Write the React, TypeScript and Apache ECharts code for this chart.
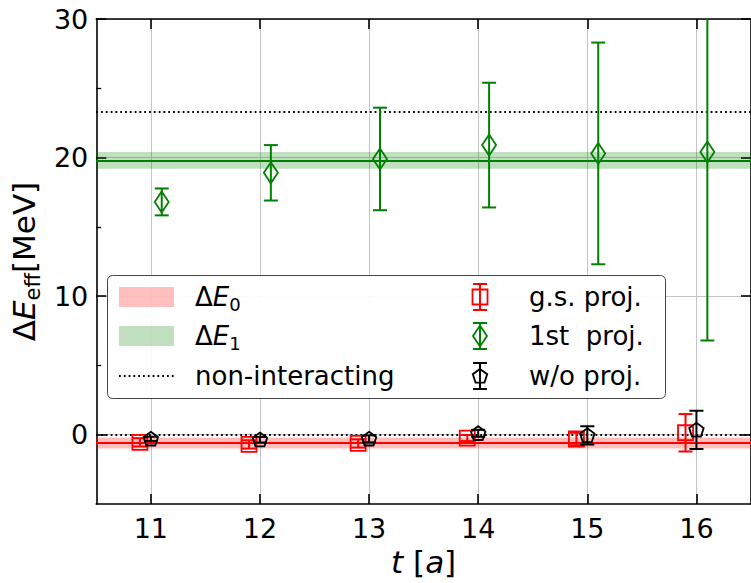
import React, { useEffect, useRef } from "react";
import * as echarts from "echarts";

// ---------- data ----------
const tValues = [11, 12, 13, 14, 15, 16];
const gsShift = -0.1;
const firstShift = 0.1;
const gsValues = [-0.55, -0.7, -0.63, -0.24, -0.31, 0.14];
const gsErrors = [0.3, 0.3, 0.3, 0.22, 0.45, 1.35];
const firstValues = [16.8, 18.9, 19.9, 20.9, 20.3, 20.4];
const firstErrors = [0.97, 2.0, 3.7, 4.5, 8.0, 13.6];
const woValues = [-0.3, -0.36, -0.3, 0.1, -0.05, 0.35];
const woErrors = [0.15, 0.2, 0.25, 0.25, 0.66, 1.38];
const dE0Value = -0.6;
const dE0Error = 0.4;
const dE1Value = 19.8;
const dE1Error = 0.6;
const nonInteracting = [0, 23.3];
const xTicks = [11, 12, 13, 14, 15, 16];
const yTicks = [0, 10, 20, 30];
const yMinorTicks = [5, 15, 25];

const FONT = "DejaVu Sans";
const RED = "#ff0000";
const GREEN = "#008000";
const BLACK = "#000000";

type Marker = "square" | "diamond" | "pentagon";

function markerPoints(kind: Marker, cx: number, cy: number): number[][] {
  if (kind === "square") {
    const h = 7.5;
    return [
      [cx - h, cy - h],
      [cx + h, cy - h],
      [cx + h, cy + h],
      [cx - h, cy + h],
    ];
  }
  if (kind === "diamond") {
    return [
      [cx, cy - 10.5],
      [cx + 7, cy],
      [cx, cy + 10.5],
      [cx - 7, cy],
    ];
  }
  const r = 7.6;
  const pts: number[][] = [];
  for (let k = 0; k < 5; k++) {
    const a = ((-90 + k * 72) * Math.PI) / 180;
    pts.push([cx + r * Math.cos(a), cy + 0.5 + r * Math.sin(a)]);
  }
  return pts;
}

function errGlyph(cx: number, cy: number, yTop: number, yBot: number, color: string, kind: Marker) {
  const cap = 7;
  const st = { stroke: color, lineWidth: 2, fill: "none" };
  return [
    { type: "line", shape: { x1: cx, y1: yTop, x2: cx, y2: yBot }, style: st },
    { type: "line", shape: { x1: cx - cap, y1: yTop, x2: cx + cap, y2: yTop }, style: st },
    { type: "line", shape: { x1: cx - cap, y1: yBot, x2: cx + cap, y2: yBot }, style: st },
    {
      type: "polygon",
      shape: { points: markerPoints(kind, cx, cy) },
      style: { stroke: color, lineWidth: 1.8, fill: "none" },
    },
  ];
}

function errorSeries(name: string, shift: number, vals: number[], errs: number[], color: string, kind: Marker, z: number) {
  return {
    type: "custom",
    name,
    clip: true,
    z,
    encode: { x: 0, y: 1 },
    data: tValues.map((t, i) => [t + shift, vals[i], errs[i]]),
    renderItem: (params: any, api: any) => {
      const x = api.value(0);
      const y = api.value(1);
      const e = api.value(2);
      const c = api.coord([x, y]);
      const top = api.coord([x, y + e]);
      const bot = api.coord([x, y - e]);
      return { type: "group", children: errGlyph(c[0], c[1], top[1], bot[1], color, kind) };
    },
  };
}

function legendGraphics() {
  const rows = [297, 336, 376];
  const els: any[] = [];
  els.push({
    type: "rect",
    shape: { x: 107.5, y: 275.5, width: 558, height: 123, r: 5 },
    style: { fill: "rgba(255,255,255,0.92)", stroke: "#444444", lineWidth: 1 },
    z: 100,
  });
  els.push({
    type: "rect",
    shape: { x: 119, y: rows[0] - 10, width: 55, height: 20 },
    style: { fill: "rgba(255,0,0,0.25)" },
    z: 101,
  });
  els.push({
    type: "rect",
    shape: { x: 119, y: rows[1] - 10, width: 55, height: 20 },
    style: { fill: "rgba(0,128,0,0.25)" },
    z: 101,
  });
  els.push({
    type: "line",
    shape: { x1: 119, y1: rows[2], x2: 174, y2: rows[2] },
    style: { stroke: BLACK, lineWidth: 1.8, lineDash: [1.8, 3] },
    z: 101,
  });
  const rich = {
    n: { fontFamily: FONT, fontSize: 26, fill: BLACK },
    i: { fontFamily: FONT, fontSize: 26, fontStyle: "italic", fill: BLACK },
    s: { fontFamily: FONT, fontSize: 18, fill: BLACK, padding: [15, 0, 0, 0] },
  };
  const texts = [
    { t: "{n|Δ}{i|E}{s|0}", x: 195, y: rows[0], rich: true },
    { t: "{n|Δ}{i|E}{s|1}", x: 195, y: rows[1], rich: true },
    { t: "non-interacting", x: 195, y: rows[2] },
    { t: "g.s. proj.", x: 529, y: rows[0] },
    { t: "1st  proj.", x: 529, y: rows[1] },
    { t: "w/o proj.", x: 529, y: rows[2] },
  ];
  texts.forEach((tx) => {
    els.push({
      type: "text",
      z: 102,
      style: {
        text: tx.t,
        x: tx.x,
        y: tx.y,
        align: "left",
        verticalAlign: "middle",
        fontFamily: FONT,
        fontSize: 26,
        fill: BLACK,
        whiteSpace: "pre",
        ...(tx.rich ? { rich } : {}),
      },
    });
  });
  const glyphs: [string, Marker, number][] = [
    [RED, "square", rows[0]],
    [GREEN, "diamond", rows[1]],
    [BLACK, "pentagon", rows[2]],
  ];
  glyphs.forEach(([color, kind, y]) => {
    errGlyph(480, y, y - 13, y + 13, color, kind).forEach((g) => els.push({ ...g, z: 102 }));
  });
  return els;
}

export default function App() {
  const ref = useRef<HTMLDivElement>(null);
  useEffect(() => {
    if (!ref.current) return;
    const chart = echarts.init(ref.current, undefined, { renderer: "svg" });
    const axisLine = { show: true, onZero: false, lineStyle: { color: BLACK, width: 1.6 } };
    const grid = { left: 95, top: 19, width: 663, height: 485, containLabel: false };
    const option: any = {
      animation: false,
      backgroundColor: "#ffffff",
      grid,
      xAxis: [
        {
          type: "value",
          min: 10.5,
          max: 16.5,
          position: "bottom",
          axisLine,
          axisTick: { show: true, inside: true, length: 10, customValues: xTicks, lineStyle: { color: BLACK, width: 1.6 } },
          axisLabel: {
            customValues: xTicks,
            fontFamily: FONT,
            fontSize: 27,
            color: BLACK,
            margin: 11,
          },
          splitLine: { show: true, lineStyle: { color: "#c4c4c4", width: 1 } },
          name: "{i|t}{n| [}{i|a}{n|]}",
          nameLocation: "middle",
          nameGap: 40,
          nameTextStyle: {
            fontFamily: FONT,
            fontSize: 31,
            color: BLACK,
            rich: {
              i: { fontFamily: FONT, fontSize: 31, fontStyle: "italic", color: BLACK },
              n: { fontFamily: FONT, fontSize: 31, color: BLACK },
            },
          },
        },
        {
          type: "value",
          min: 10.5,
          max: 16.5,
          position: "top",
          axisLine,
          axisTick: { show: true, inside: true, length: 10, customValues: xTicks, lineStyle: { color: BLACK, width: 1.6 } },
          axisLabel: { show: false },
          splitLine: { show: false },
        },
      ],
      yAxis: [
        {
          type: "value",
          min: -5,
          max: 30,
          position: "left",
          axisLine,
          axisTick: { show: true, inside: true, length: 10, customValues: yTicks, lineStyle: { color: BLACK, width: 1.6 } },
          axisLabel: { customValues: yTicks, fontFamily: FONT, fontSize: 27, color: BLACK, margin: 8 },
          splitLine: { show: true, lineStyle: { color: "#c4c4c4", width: 1 } },
          name: "{n|Δ}{i|E}{s|eff}{n|[MeV]}",
          nameLocation: "middle",
          nameRotate: 90,
          nameGap: 52,
          nameTextStyle: {
            fontFamily: FONT,
            fontSize: 31,
            color: BLACK,
            rich: {
              n: { fontFamily: FONT, fontSize: 31, color: BLACK },
              i: { fontFamily: FONT, fontSize: 31, fontStyle: "italic", color: BLACK },
              s: { fontFamily: FONT, fontSize: 21, color: BLACK, padding: [18, 0, 0, 0] },
            },
          },
        },
        {
          type: "value",
          min: -5,
          max: 30,
          position: "left",
          axisLine: { show: false },
          axisTick: { show: true, inside: true, length: 5, customValues: yMinorTicks, lineStyle: { color: BLACK, width: 1.3 } },
          axisLabel: { show: false },
          splitLine: { show: false },
        },
        {
          type: "value",
          min: -5,
          max: 30,
          position: "right",
          axisLine,
          axisTick: { show: true, inside: true, length: 10, customValues: yTicks, lineStyle: { color: BLACK, width: 1.6 } },
          axisLabel: { show: false },
          splitLine: { show: false },
        },
      ],
      series: [
        {
          type: "line",
          name: "bands",
          data: [],
          z: 1,
          symbol: "none",
          markArea: {
            silent: true,
            label: { show: false },
            data: [
              [{ yAxis: dE0Value - dE0Error, itemStyle: { color: "rgba(255,0,0,0.25)" } }, { yAxis: dE0Value + dE0Error }],
              [{ yAxis: dE1Value - dE1Error, itemStyle: { color: "rgba(0,128,0,0.25)" } }, { yAxis: dE1Value + dE1Error }],
            ],
          },
          markLine: {
            silent: true,
            symbol: "none",
            label: { show: false },
            data: [
              { yAxis: dE0Value, lineStyle: { color: RED, width: 2, type: "solid" } },
              { yAxis: dE1Value, lineStyle: { color: GREEN, width: 2, type: "solid" } },
              ...nonInteracting.map((v) => ({
                yAxis: v,
                lineStyle: { color: BLACK, width: 1.8, type: [1.8, 3] },
              })),
            ],
          },
        },
        errorSeries("g.s. proj.", gsShift, gsValues, gsErrors, RED, "square", 5),
        errorSeries("1st  proj.", firstShift, firstValues, firstErrors, GREEN, "diamond", 6),
        errorSeries("w/o proj.", 0, woValues, woErrors, BLACK, "pentagon", 7),
      ],
      graphic: legendGraphics(),
    };
    chart.setOption(option);
    return () => chart.dispose();
  }, []);
  return <div ref={ref} style={{ position: "absolute", left: 0, top: 0, width: 751, height: 583 }} />;
}
